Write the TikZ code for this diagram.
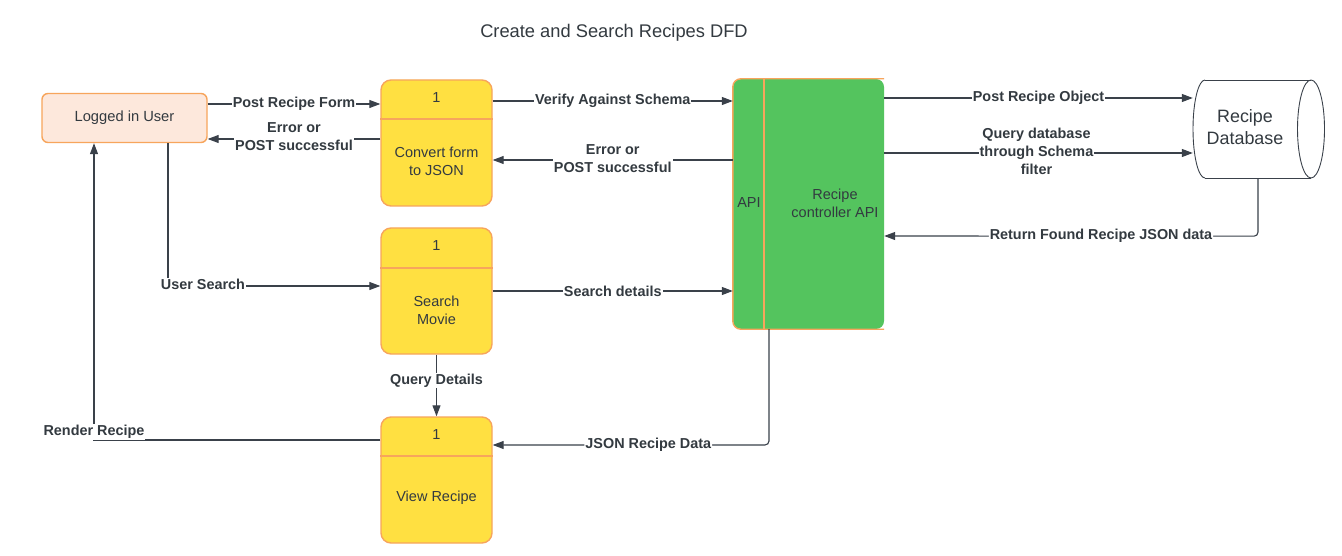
\documentclass[tikz,border=0pt]{standalone}
\usepackage{fontspec}
\setmainfont{Liberation Sans}
\usetikzlibrary{arrows.meta,calc}
\definecolor{ink}{HTML}{3A414A}
\definecolor{txt}{HTML}{333A40}
\definecolor{procfill}{HTML}{FFE041}
\definecolor{procline}{HTML}{F7A55C}
\definecolor{userfill}{HTML}{FDE8DC}
\definecolor{apifill}{HTML}{54C45E}
\tikzset{
  proc/.style={draw=procline, line width=1.4pt, fill=procfill, rounded corners=10pt,
    minimum width=111pt, minimum height=126pt, inner sep=0pt},
  usr/.style={draw=procline, line width=1.4pt, fill=userfill, rounded corners=6pt,
    minimum width=165pt, minimum height=49pt, font=\fontsize{14.7}{17}\selectfont, text=txt},
  ptext/.style={font=\fontsize{14.5}{18}\selectfont, text=txt, align=center},
  flow/.style={draw=ink, line width=1.1pt, -{Triangle[length=11pt,width=8pt]}},
  lbl/.style={font=\bfseries\fontsize{14.4}{18}\selectfont, text=txt, fill=white,
    inner sep=1pt, align=center},
}
\begin{document}
\begin{tikzpicture}[x=1pt,y=-1pt]
\useasboundingbox (0,0) rectangle (1342,556);
\fill[white] (0,0) rectangle (1342,556);

% title
\node[font=\fontsize{18.3}{21}\selectfont, text=txt] (title) at (614,33) {Create and Search Recipes DFD};

% user
\node[usr] (user) at (124.5,118) {Logged in User};

% processes
\node[proc] (p1) at (436.5,143) {};
\node[proc] (p2) at (436.5,291) {};
\node[proc] (p3) at (436.5,480) {};
\draw[procline, line width=1.4pt] (p1.west |- 0,119) -- (p1.east |- 0,119);
\draw[procline, line width=1.4pt] (p2.west |- 0,268) -- (p2.east |- 0,268);
\draw[procline, line width=1.4pt] (p3.west |- 0,456) -- (p3.east |- 0,456);
\node[ptext] (p1n) at (436.5,98) {1};
\node[ptext] (p2n) at (436.5,246) {1};
\node[ptext] (p3n) at (436.5,435) {1};
\node[ptext] (p1t) at (436.5,161) {Convert form\\to JSON};
\node[ptext] (p2t) at (436.5,310) {Search\\Movie};
\node[ptext] (p3t) at (436.5,498) {View Recipe};

% API
\node[fill=apifill, rounded corners=8pt, minimum width=151pt, minimum height=250pt, inner sep=0pt] (api) at (808.5,204) {};
\draw[procline, line width=1.4pt, rounded corners=8pt] (api.north east) -- (api.north west) -- (api.south west) -- (api.south east);
\draw[procline, line width=1.4pt] (764,79) -- (764,329);
\node[ptext] (apil) at (749,203) {API};
\node[ptext] (apit) at (835,203) {Recipe\\controller API};

% database cylinder
\node[minimum width=132pt, minimum height=98pt, inner sep=0pt] (db) at (1259,129) {};
\node[font=\fontsize{17.9}{22}\selectfont, text=txt, align=center] (dbt) at (1245,127) {Recipe\\Database};
\draw[ink, line width=0.9pt] (1205,80) -- (1311,80);
\draw[ink, line width=0.9pt] (1205,178) -- (1311,178);
\draw[ink, line width=0.9pt] (1205,80) arc[start angle=90, end angle=270, x radius=12pt, y radius=49pt];
\draw[ink, line width=0.9pt] (1311,129) ellipse[x radius=13.5pt, y radius=49pt];

% flows
\draw[flow] (user.east |- 0,104) -- node[lbl]{Post Recipe Form} (p1.west |- 0,104);
\draw[flow] (p1.west |- 0,139) -- node[lbl, yshift=2pt]{Error or\\POST successful} (user.east |- 0,139);
\draw[flow] (p1.east |- 0,101) -- node[lbl]{Verify Against Schema} (api.west |- 0,101);
\draw[flow] (api.west |- 0,160) -- node[lbl, yshift=1pt]{Error or\\POST successful} (p1.east |- 0,160);
\draw[flow] (p2.east |- 0,291) -- node[lbl]{Search details} (api.west |- 0,291);
\draw[flow] (api.east |- 0,98) -- node[lbl]{Post Recipe Object} (db.west |- 0,98);
\draw[flow] (api.east |- 0,153) -- node[lbl, xshift=-2pt, yshift=2pt]{Query database\\through Schema\\filter} (db.west |- 0,153);
\draw[flow, rounded corners=4pt] ([xshift=-1pt]db.south) -- ++(0,58) -- node[lbl, pos=0.42]{Return Found Recipe JSON data} (api.east |- 0,236);
\draw[flow, rounded corners=4pt] (api.south -| 769,0) -- (769,445) -- node[lbl, pos=0.437]{JSON Recipe Data} (p3.east |- 0,445);
\draw[flow] (p2.south) -- node[lbl, pos=0.42]{Query Details} (p3.north);
\draw[flow] (user.south -| 168,0) -- (168,286) -- (p2.west |- 0,286);
\node[lbl] (usl) at (203,284) {User Search};
\draw[flow] (p3.west |- 0,440) -- (94,440) -- (user.south -| 94,0);
\node[lbl] (rrl) at (94,432) {Render Recipe};
\end{tikzpicture}
\end{document}
